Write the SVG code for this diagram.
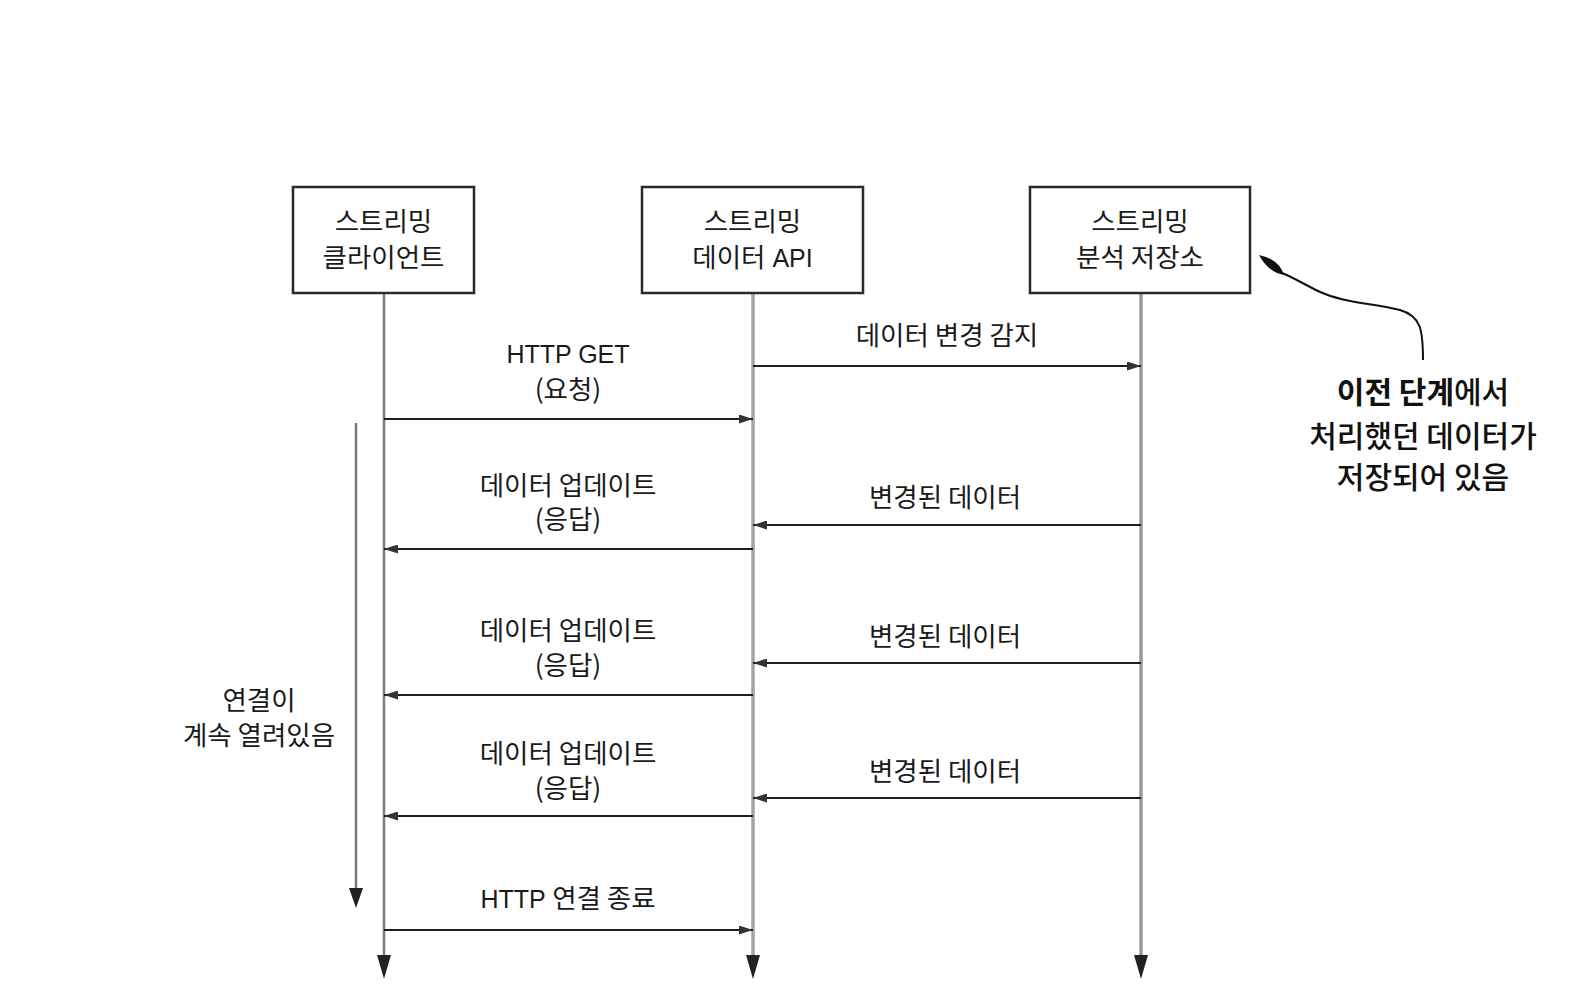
<svg xmlns="http://www.w3.org/2000/svg" width="1590" height="1000" viewBox="0 0 1590 1000">
<defs>
<style>
.box{fill:#fff;stroke:#2a2a2a;stroke-width:2.5}
.life{stroke:#8f8f8f;stroke-width:3;fill:none}
.msg{stroke:#1e1e1e;stroke-width:2;fill:none}
.t{font-family:"Liberation Sans","Noto Sans CJK KR",sans-serif;font-size:25px;fill:#1a1a1a;text-anchor:middle}
.t tspan{font-family:"Noto Sans CJK KR","Noto Sans",sans-serif;font-size:26.5px}
.k{font-family:"Noto Sans CJK KR","Noto Sans",sans-serif;font-size:26.5px;fill:#1a1a1a;text-anchor:middle}
.note{font-family:"Noto Sans CJK KR","Noto Sans",sans-serif;font-size:30px;fill:#111;text-anchor:middle;font-weight:500}
</style>
<marker id="ah" viewBox="0 0 14 9" refX="14" refY="4.5" markerWidth="14" markerHeight="9" markerUnits="userSpaceOnUse" orient="auto">
<path d="M0,0 L14,4.5 L0,9 Z" fill="#333"/>
</marker>
</defs>
<rect width="1590" height="1000" fill="#fff"/>

<g id="lifelines">
<line class="life" x1="384" y1="293" x2="384" y2="958" style="stroke:#7e7e7e;stroke-width:2.5"/>
<path d="M377,955 L391,955 L384,979 Z" fill="#222"/>
<line class="life" x1="753" y1="293" x2="753" y2="958" style="stroke:#a3a3a3;stroke-width:3.5"/>
<path d="M746,955 L760,955 L753,979 Z" fill="#222"/>
<line class="life" x1="1141" y1="293" x2="1141" y2="958" style="stroke:#9a9a9a;stroke-width:3.5"/>
<path d="M1134,955 L1148,955 L1141,979 Z" fill="#222"/>
</g>

<g id="client">
<rect class="box" x="293" y="187" width="181" height="106"/>
<text class="k" x="383.5" y="231">스트리밍</text>
<text class="k" x="383.5" y="267">클라이언트</text>
</g>
<g id="data-api">
<rect class="box" x="642" y="187" width="221" height="106"/>
<text class="k" x="752.5" y="231">스트리밍</text>
<text class="t" x="752.5" y="267"><tspan>데이터</tspan> API</text>
</g>
<g id="analytics-store">
<rect class="box" x="1030" y="187" width="220" height="106"/>
<text class="k" x="1140" y="231">스트리밍</text>
<text class="k" x="1140" y="267">분석 저장소</text>
</g>

<g id="connectors">
<line class="msg" x1="753" y1="366" x2="1141" y2="366" marker-end="url(#ah)"/>
<line class="msg" x1="384" y1="419" x2="753" y2="419" marker-end="url(#ah)"/>
<line class="msg" x1="1141" y1="525" x2="753" y2="525" marker-end="url(#ah)"/>
<line class="msg" x1="753" y1="549" x2="384" y2="549" marker-end="url(#ah)"/>
<line class="msg" x1="1141" y1="663" x2="753" y2="663" marker-end="url(#ah)"/>
<line class="msg" x1="753" y1="695" x2="384" y2="695" marker-end="url(#ah)"/>
<line class="msg" x1="1141" y1="798" x2="753" y2="798" marker-end="url(#ah)"/>
<line class="msg" x1="753" y1="816" x2="384" y2="816" marker-end="url(#ah)"/>
<line class="msg" x1="384" y1="930" x2="753" y2="930" marker-end="url(#ah)"/>
<line x1="356" y1="423" x2="356" y2="890" stroke="#7a7a7a" stroke-width="2.5"/>
<path d="M349,888 L363,888 L356,908 Z" fill="#222"/>
<path d="M1423,360 C1423,330 1421,316 1400,310 C1372,303 1343,303 1318,291 C1302,283 1292,277 1282,273" fill="none" stroke="#111" stroke-width="2"/>
<path d="M1259,255 Q1279,259 1284,275 Q1268,272 1259,255 Z" fill="#111"/>
</g>

<g id="labels">
<text class="k" x="947" y="345">데이터 변경 감지</text>
<text class="t" x="568" y="363">HTTP GET</text>
<text class="k" x="568" y="399">(요청)</text>
<text class="k" x="945" y="507">변경된 데이터</text>
<text class="k" x="568" y="495">데이터 업데이트</text>
<text class="k" x="568" y="529">(응답)</text>
<text class="k" x="945" y="646">변경된 데이터</text>
<text class="k" x="568" y="640">데이터 업데이트</text>
<text class="k" x="568" y="675">(응답)</text>
<text class="k" x="945" y="781">변경된 데이터</text>
<text class="k" x="568" y="763">데이터 업데이트</text>
<text class="k" x="568" y="798">(응답)</text>
<text class="t" x="568" y="908">HTTP <tspan>연결 종료</tspan></text>
<text class="k" x="259" y="710">연결이</text>
<text class="k" x="259" y="745">계속 열려있음</text>
</g>

<g id="note">
<text class="note" x="1423" y="403"><tspan font-weight="bold">이전 단계</tspan>에서</text>
<text class="note" x="1423" y="447">처리했던 데이터가</text>
<text class="note" x="1423" y="488">저장되어 있음</text>
</g>
</svg>
